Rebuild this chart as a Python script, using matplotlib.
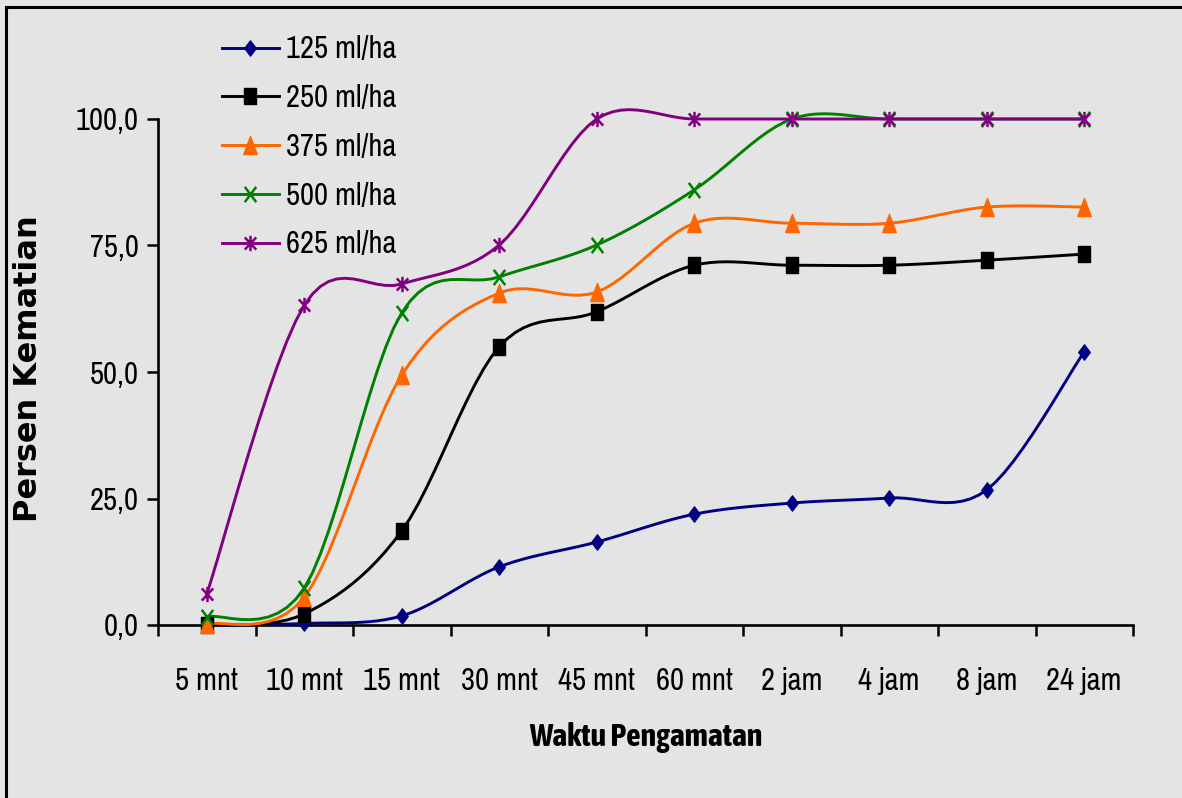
import numpy as np
import matplotlib
matplotlib.use("Agg")
import matplotlib.pyplot as plt
from matplotlib.path import Path
from matplotlib.patches import Rectangle

waktu = ["5 mnt", "10 mnt", "15 mnt", "30 mnt", "45 mnt", "60 mnt",
         "2 jam", "4 jam", "8 jam", "24 jam"]

dosis_125 = [0.0, 0.3, 1.8, 11.5, 16.4, 21.9, 24.1, 25.1, 26.7, 54.0]
dosis_250 = [0.0, 2.2, 18.6, 55.0, 61.9, 71.1, 71.1, 71.1, 72.1, 73.3]
dosis_375 = [0.2, 5.5, 49.4, 65.6, 65.8, 79.4, 79.4, 79.4, 82.6, 82.6]
dosis_500 = [1.6, 7.3, 61.7, 68.8, 75.1, 86.0, 100.0, 100.0, 100.0, 100.0]
dosis_625 = [6.1, 63.2, 67.4, 75.1, 100.0, 100.0, 100.0, 100.0, 100.0, 100.0]

label_seri = ["125 ml/ha", "250 ml/ha", "375 ml/ha", "500 ml/ha", "625 ml/ha"]
warna = ["#000080", "#000000", "#ff6600", "#008000", "#800080"]

NARROW = ["Archivo Narrow", "DejaVu Sans"]
plt.rcParams['font.family'] = NARROW
plt.rcParams['font.stretch'] = "condensed"

# markers are a bit taller than wide
k = 0.75
belah = Path([(0, 1), (k, 0), (0, -1), (-k, 0), (0, 1)], closed=True)
kotak = Path([(-k, -1), (k, -1), (k, 1), (-k, 1), (-k, -1)], closed=True)
segitiga = Path([(0, 1), (k, -1), (-k, -1), (0, 1)], closed=True)
silang = Path([(-k, -1), (k, 1), (-k, 1), (k, -1)],
              [Path.MOVETO, Path.LINETO, Path.MOVETO, Path.LINETO])
bintang = Path([(-k, -0.8), (k, 0.8), (-k, 0.8), (k, -0.8), (0, -1), (0, 1)],
               [Path.MOVETO, Path.LINETO, Path.MOVETO, Path.LINETO,
                Path.MOVETO, Path.LINETO])

gaya = [dict(marker=belah, ms=11), dict(marker=kotak, ms=12),
        dict(marker=segitiga, ms=13), dict(marker=silang, ms=11, mew=1.8),
        dict(marker=bintang, ms=11, mew=1.8)]


def smooth(y, n=12):
    # catmull-rom curve through the points, like a spreadsheet "smoothed line"
    x = np.arange(len(y), dtype=float)
    y = np.asarray(y, dtype=float)
    px = np.concatenate([[x[0]], x, [x[-1]]])
    py = np.concatenate([[y[0]], y, [y[-1]]])
    xs, ys = [x[0]], [y[0]]
    t = np.linspace(0, 1, n + 1)[1:]
    for i in range(1, len(x)):
        p0 = np.array([px[i], py[i]])
        p1 = p0 + (np.array([px[i + 1], py[i + 1]]) - np.array([px[i - 1], py[i - 1]])) / 6
        p3 = np.array([px[i + 1], py[i + 1]])
        p2 = p3 - (np.array([px[i + 2], py[i + 2]]) - p0) / 6
        b = ((1 - t) ** 3)[:, None] * p0 + (3 * (1 - t) ** 2 * t)[:, None] * p1 \
            + (3 * (1 - t) * t ** 2)[:, None] * p2 + (t ** 3)[:, None] * p3
        xs.extend(b[:, 0])
        ys.extend(b[:, 1])
    return np.array(xs), np.array(ys)


bg = "#e4e4e4"
fig = plt.figure(figsize=(11.82, 7.98), dpi=100, facecolor=bg)
fig.patches.append(Rectangle((6 / 1182, -0.1), 1.2, (798 - 7) / 798 + 0.1,
                             transform=fig.transFigure, fill=False,
                             edgecolor="black", lw=2.2))

ax = fig.add_axes([158 / 1182, 173 / 798, 975 / 1182, 506 / 798])
ax.set_facecolor(bg)

semua = [dosis_125, dosis_250, dosis_375, dosis_500, dosis_625]
x = np.arange(len(waktu))
for data, lab, c, g in zip(semua, label_seri, warna, gaya):
    sx, sy = smooth(data)
    ax.plot(sx, sy, color=c, lw=2.1, clip_on=False, zorder=3)
    ax.plot(x, data, color=c, lw=0, clip_on=False, zorder=4, **g)
    ax.plot([], [], color=c, lw=2.1, label=lab, **g)

ax.set_xlim(-0.5, len(waktu) - 0.5)
ax.set_ylim(0, 100)
ax.set_yticks([0, 25, 50, 75, 100])
ax.set_yticklabels(["0,0", "25,0", "50,0", "75,0", "100,0"])
ax.set_xticks(np.arange(len(waktu) + 1) - 0.5)
ax.set_xticklabels([])
ax.set_xticks(x, minor=True)
ax.set_xticklabels(waktu, minor=True)
ax.tick_params(axis="x", which="minor", length=0, pad=30, labelsize=22)
ax.tick_params(axis="x", which="major", length=8, width=1.8, direction="out")
ax.tick_params(axis="y", length=8, width=1.8, direction="out", labelsize=22, pad=6)

for s in ["top", "right"]:
    ax.spines[s].set_visible(False)
for s in ["left", "bottom"]:
    ax.spines[s].set_linewidth(1.9)

ax.set_xlabel("Waktu Pengamatan", fontsize=23, fontweight="bold",
              family=["Asap Condensed", "DejaVu Sans"], labelpad=20)
fig.text(29 / 1182, 1 - 369 / 798, "Persen Kematian", rotation=90,
         fontsize=23, fontweight="bold", family=["DejaVu Sans"],
         fontstretch="normal", ha="center", va="center")

ax.legend(loc="upper left", bbox_to_anchor=(52 / 975, 1 + 96 / 506),
          frameon=False, fontsize=22, handlelength=1.85, labelspacing=0.68,
          handletextpad=0.25, borderaxespad=0)

fig.savefig("out.png", dpi=100, facecolor=bg)
